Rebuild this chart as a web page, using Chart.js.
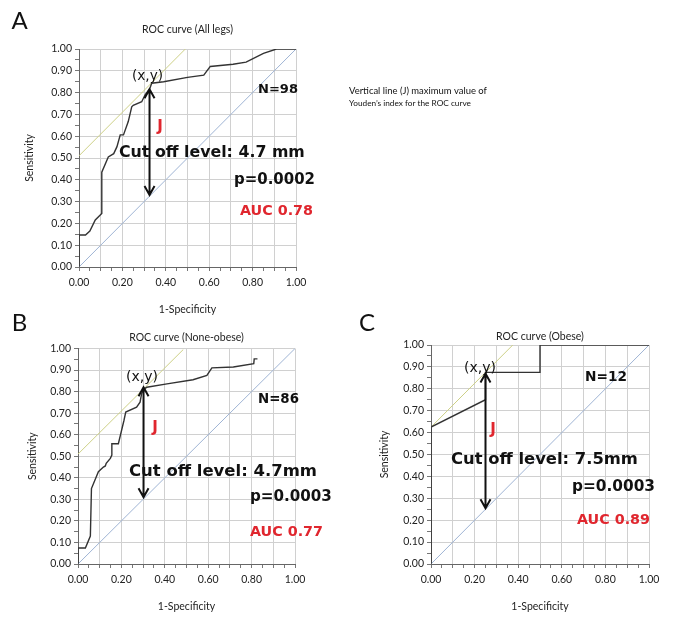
<!DOCTYPE html>
<html>
<head>
<meta charset="utf-8">
<script src="https://cdn.jsdelivr.net/npm/chart.js@4/dist/chart.umd.min.js"></script>
<style>
  body { margin: 0; background: #fff; width: 684px; height: 636px; position: relative; overflow: hidden; }
  canvas { position: absolute; }
</style>
</head>
<body>
<canvas id="chartA"></canvas>
<canvas id="chartB"></canvas>
<canvas id="chartC"></canvas>
<script>
// tick labels shared by the three plots
const xTickLabels = ['0.00', '0.20', '0.40', '0.60', '0.80', '1.00'];
const yTickLabels = ['0.00', '0.10', '0.20', '0.30', '0.40', '0.50', '0.60', '0.70', '0.80', '0.90', '1.00'];

// reference diagonal (chance line)
const chanceX = [0, 1];
const chanceY = [0, 1];

// A: all legs (N=98)
const allLegsFpr = [0, 0, 0.03, 0.05, 0.075, 0.105, 0.105, 0.135, 0.16, 0.175, 0.19, 0.205, 0.227, 0.243, 0.25, 0.289, 0.304, 0.327, 0.335, 0.39, 0.5, 0.575, 0.605, 0.71, 0.77, 0.85, 0.91, 1.0];
const allLegsTpr = [0, 0.147, 0.147, 0.165, 0.216, 0.246, 0.435, 0.505, 0.52, 0.552, 0.606, 0.606, 0.667, 0.735, 0.742, 0.758, 0.789, 0.82, 0.843, 0.85, 0.87, 0.88, 0.92, 0.93, 0.94, 0.98, 1.0, 1.0];
const allLegsTangentX = [0, 0.49];
const allLegsTangentY = [0.51, 1.0];
const allLegsJ = [0.325, 0.815, 0.33];   // x, top, bottom

// B: non-obese (N=86)
const nonObeseFpr = [0, 0, 0.034, 0.057, 0.062, 0.094, 0.117, 0.126, 0.13, 0.149, 0.156, 0.156, 0.186, 0.212, 0.22, 0.27, 0.286, 0.293, 0.305, 0.317, 0.41, 0.53, 0.594, 0.617, 0.716, 0.81, 0.812, 0.827];
const nonObeseTpr = [0, 0.074, 0.074, 0.13, 0.35, 0.428, 0.45, 0.455, 0.467, 0.49, 0.505, 0.558, 0.558, 0.667, 0.705, 0.728, 0.751, 0.79, 0.813, 0.82, 0.836, 0.855, 0.875, 0.91, 0.914, 0.93, 0.952, 0.952];
const nonObeseTangentX = [0, 0.485];
const nonObeseTangentY = [0.51, 0.995];
const nonObeseJ = [0.302, 0.82, 0.31];

// C: obese (N=12)
const obeseFpr = [0, 0, 0.25, 0.25, 0.5, 0.5, 1.0];
const obeseTpr = [0, 0.625, 0.75, 0.875, 0.875, 1.0, 1.0];
const obeseTangentX = [0, 0.375];
const obeseTangentY = [0.625, 1.0];
const obeseJ = [0.25, 0.87, 0.255];

const bold = "'DejaVu Sans', Verdana, sans-serif";
const RED = '#e0262e';
const AXIS_SIZE = 10.5;
const LH = AXIS_SIZE * 1.2;

// the reference axes use a condensed face; take the narrowest installed one
function pickNarrow() {
  const c = document.createElement('canvas').getContext('2d');
  const s = 'ROC curve (All legs) 0.00 Sensitivity';
  c.font = '20px monospace';
  const mono = c.measureText(s).width;
  c.font = '20px serif';
  const serif = c.measureText(s).width;
  const cands = ["'Liberation Sans Narrow'", "'Noto Sans CJK JP'", "'Noto Sans CJK SC'", 'Roboto', 'Lato', 'Inter', "'Liberation Sans'", "'Noto Sans'"];
  let best = "'Liberation Sans'", bestW = Infinity;
  for (const f of cands) {
    c.font = `20px ${f}, monospace`;
    const w1 = c.measureText(s).width;
    c.font = `20px ${f}, serif`;
    const w2 = c.measureText(s).width;
    const installed = Math.abs(w1 - mono) > 0.5 || Math.abs(w2 - serif) > 0.5;
    if (installed && w1 < bestW) { best = f; bestW = w1; }
  }
  return best + ', sans-serif';
}
const narrow = pickNarrow();

function pts(xs, ys) {
  return xs.map((v, i) => ({ x: v, y: ys[i] }));
}

// fit each text to the width it takes in the reference
function drawText(ctx, t, dx, dy) {
  let size = t.size || 16;
  const weight = t.weight || 'bold';
  const family = t.family || bold;
  if (t.w) {
    ctx.font = `${weight} 20px ${family}`;
    size = 20 * t.w / ctx.measureText(t.text).width;
  }
  ctx.font = `${weight} ${size}px ${family}`;
  ctx.fillStyle = t.color || '#111';
  ctx.textAlign = t.align || 'left';
  ctx.textBaseline = 'middle';
  ctx.fillText(t.text, t.x - dx, t.y - dy);
}

const notes = {
  id: 'notes',
  afterDatasetsDraw(chart, args, opts) {
    const ctx = chart.ctx;
    const sx = chart.scales.x, sy = chart.scales.y;
    ctx.save();
    const a = opts.arrow;
    const px = sx.getPixelForValue(a[0]);
    const top = sy.getPixelForValue(a[1]);
    const bot = sy.getPixelForValue(a[2]);
    ctx.strokeStyle = '#111';
    ctx.lineWidth = 2;
    ctx.beginPath();
    ctx.moveTo(px, top); ctx.lineTo(px, bot);
    ctx.moveTo(px - 5, top + 9); ctx.lineTo(px, top); ctx.lineTo(px + 5, top + 9);
    ctx.moveTo(px - 5, bot - 9); ctx.lineTo(px, bot); ctx.lineTo(px + 5, bot - 9);
    ctx.stroke();
    opts.texts.forEach(t => drawText(ctx, t, opts.box.left, opts.box.top));
    ctx.restore();
  }
};

function makePanel(id, p) {
  const canvas = document.getElementById(id);
  canvas.width = p.box.w;
  canvas.height = p.box.h;
  canvas.style.left = p.box.left + 'px';
  canvas.style.top = p.box.top + 'px';

  const titleTop = p.titleY - p.box.top - LH / 2;
  const titleBottom = p.plot.t - p.box.top - titleTop - LH;
  const xHeight = p.box.top + p.box.h - p.plot.b;
  const yWidth = p.plot.l - p.box.left;

  const axisFont = { family: narrow, size: AXIS_SIZE, weight: 'normal', lineHeight: 1.2 };
  const gridColor = c => (c.index % 2 === 0 ? '#d0d0d0' : 'rgba(0,0,0,0)');

  return new Chart(canvas, {
    type: 'scatter',
    data: {
      datasets: [
        { data: pts(p.fpr, p.tpr), showLine: true, pointRadius: 0, borderColor: '#333', borderWidth: 1.4, tension: 0 },
        { data: pts(p.tanX, p.tanY), showLine: true, pointRadius: 0, borderColor: '#cdd086', borderWidth: 1 },
        { data: pts(chanceX, chanceY), showLine: true, pointRadius: 0, borderColor: '#9fb4d4', borderWidth: 1 }
      ]
    },
    options: {
      responsive: false,
      animation: false,
      devicePixelRatio: 1,
      layout: { padding: { left: 0, top: 0, bottom: 0, right: p.box.left + p.box.w - p.plot.r } },
      plugins: {
        legend: { display: false },
        tooltip: { enabled: false },
        title: {
          display: true, text: p.title, fullSize: false, color: '#222',
          font: axisFont,
          padding: { top: titleTop, bottom: titleBottom }
        },
        notes: { arrow: p.arrow, texts: p.texts, box: p.box }
      },
      scales: {
        x: {
          type: 'linear', min: 0, max: 1,
          afterFit: s => { s.height = xHeight; },
          border: { color: '#666' },
          grid: { color: gridColor, tickColor: '#777', tickLength: 4 },
          ticks: {
            stepSize: 0.05, autoSkip: false, maxRotation: 0, padding: 5, color: '#222', font: axisFont,
            callback: (v, i) => (i % 4 === 0 ? xTickLabels[i / 4] : '')
          },
          title: {
            display: true, text: '1-Specificity', color: '#222', font: axisFont,
            padding: { top: 0, bottom: p.box.top + p.box.h - p.xTitleY - LH / 2 }
          }
        },
        y: {
          type: 'linear', min: 0, max: 1,
          afterFit: s => { s.width = yWidth; },
          border: { color: '#666' },
          grid: { color: gridColor, tickColor: '#777', tickLength: 4 },
          ticks: {
            stepSize: 0.05, autoSkip: false, padding: 3, color: '#222', font: axisFont,
            callback: (v, i) => (i % 2 === 0 ? yTickLabels[i / 2] : '')
          },
          title: {
            display: true, text: 'Sensitivity', color: '#222', font: axisFont,
            padding: { top: p.yTitleX - p.box.left - LH / 2, bottom: 0 }
          }
        }
      }
    },
    plugins: [notes]
  });
}

makePanel('chartA', {
  box: { left: 0, top: 0, w: 684, h: 320 },
  plot: { l: 79, t: 49, r: 296, b: 267 },
  titleY: 30, xTitleY: 310, yTitleX: 30,
  title: 'ROC curve (All legs)',
  fpr: allLegsFpr, tpr: allLegsTpr, tanX: allLegsTangentX, tanY: allLegsTangentY, arrow: allLegsJ,
  texts: [
    { text: 'A', x: 19.5, y: 21, size: 24, weight: 'normal', family: narrow, align: 'center' },
    { text: '(x,y)', x: 132, y: 76, w: 31, weight: 'normal' },
    { text: 'N=98', x: 258, y: 90, w: 40 },
    { text: 'J', x: 160, y: 127, size: 15, color: RED, align: 'center' },
    { text: 'Cut off level: 4.7 mm', x: 119, y: 153, w: 186 },
    { text: 'p=0.0002', x: 234, y: 180, w: 81 },
    { text: 'AUC 0.78', x: 240, y: 211, w: 73, color: RED },
    { text: 'Vertical line (J) maximum value of', x: 349, y: 91, w: 138, weight: 'normal', family: narrow },
    { text: 'Youden\u2019s index for the ROC curve', x: 349, y: 103, w: 122, weight: 'normal', family: narrow }
  ]
});

makePanel('chartB', {
  box: { left: 0, top: 300, w: 345, h: 336 },
  plot: { l: 78, t: 348.5, r: 295, b: 564 },
  titleY: 338, xTitleY: 607, yTitleX: 33,
  title: 'ROC curve (None-obese)',
  fpr: nonObeseFpr, tpr: nonObeseTpr, tanX: nonObeseTangentX, tanY: nonObeseTangentY, arrow: nonObeseJ,
  texts: [
    { text: 'B', x: 19.5, y: 323, size: 24, weight: 'normal', family: narrow, align: 'center' },
    { text: '(x,y)', x: 126, y: 377, w: 32, weight: 'normal' },
    { text: 'N=86', x: 258, y: 400, w: 41 },
    { text: 'J', x: 155, y: 428, size: 15, color: RED, align: 'center' },
    { text: 'Cut off level: 4.7mm', x: 129, y: 472, w: 188 },
    { text: 'p=0.0003', x: 250, y: 497, w: 82 },
    { text: 'AUC 0.77', x: 250, y: 532, w: 73, color: RED }
  ]
});

makePanel('chartC', {
  box: { left: 345, top: 300, w: 339, h: 336 },
  plot: { l: 431, t: 345, r: 649, b: 564 },
  titleY: 337, xTitleY: 607, yTitleX: 385,
  title: 'ROC curve (Obese)',
  fpr: obeseFpr, tpr: obeseTpr, tanX: obeseTangentX, tanY: obeseTangentY, arrow: obeseJ,
  texts: [
    { text: 'C', x: 367, y: 323, size: 24, weight: 'normal', family: narrow, align: 'center' },
    { text: '(x,y)', x: 464, y: 368, w: 32, weight: 'normal' },
    { text: 'N=12', x: 585, y: 377, w: 42 },
    { text: 'J', x: 493, y: 430, size: 15, color: RED, align: 'center' },
    { text: 'Cut off level: 7.5mm', x: 451, y: 460, w: 187 },
    { text: 'p=0.0003', x: 572, y: 487, w: 83 },
    { text: 'AUC 0.89', x: 577, y: 520, w: 73, color: RED }
  ]
});
</script>
</body>
</html>
